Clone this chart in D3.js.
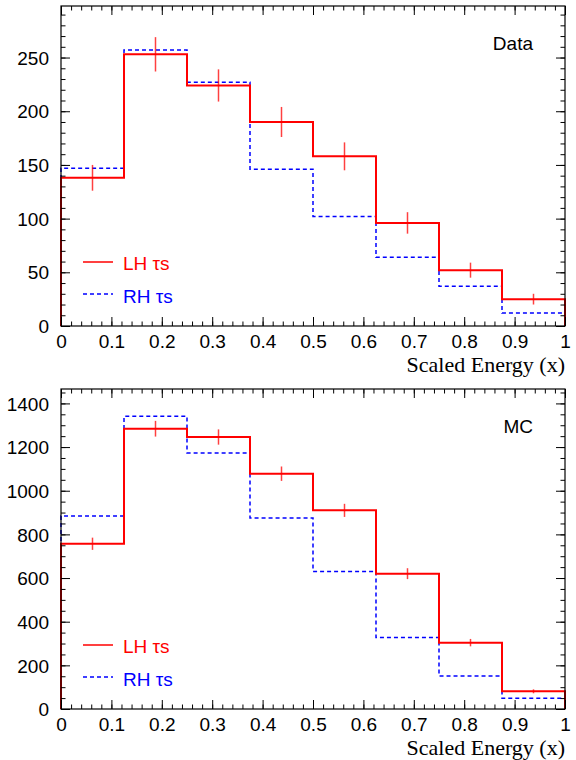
<!DOCTYPE html>
<html>
<head>
<meta charset="utf-8">
<script src="https://cdn.jsdelivr.net/npm/d3@7"></script>
<style>
  body { margin: 0; background: #fff; }
  svg text { font-family: "Liberation Sans", Arial, sans-serif; }
</style>
</head>
<body>
<svg id="chart" width="576" height="760"></svg>
<script>
// bin edges of scaled energy x
var binEdges = [0, 0.125, 0.25, 0.375, 0.5, 0.625, 0.75, 0.875, 1];
var xTicks = [0, 0.1, 0.2, 0.3, 0.4, 0.5, 0.6, 0.7, 0.8, 0.9, 1];
var xTickLabels = ["0", "0.1", "0.2", "0.3", "0.4", "0.5", "0.6", "0.7", "0.8", "0.9", "1"];

// Data panel
var dataLH = [138, 253, 224, 190, 158, 96, 52, 25];
var dataLHErr = [12, 16, 15, 14, 13, 10, 7, 5];
var dataRH = [147, 257, 227, 146, 102, 64, 37, 12];
var dataYTicks = [0, 50, 100, 150, 200, 250];

// MC panel
var mcLH = [757, 1284, 1246, 1078, 910, 620, 304, 81];
var mcLHErr = [28, 36, 35, 33, 30, 25, 17, 9];
var mcRH = [884, 1341, 1173, 875, 630, 327, 151, 49];
var mcYTicks = [0, 200, 400, 600, 800, 1000, 1200, 1400];

var svg = d3.select("#chart");
var left = 61, right = 565;

var panels = [
    {label: "Data", lh: dataLH, err: dataLHErr, rh: dataRH, yTicks: dataYTicks,
     ymax: 298, minor: 10, top: 6, bottom: 326},
    {label: "MC", lh: mcLH, err: mcLHErr, rh: mcRH, yTicks: mcYTicks,
     ymax: 1466, minor: 50, top: 389, bottom: 709}
];

panels.forEach(function(p) {
    var x = d3.scaleLinear().domain([0, 1]).range([left, right]);
    var y = d3.scaleLinear().domain([0, p.ymax]).range([p.bottom, p.top]);
    var g = svg.append("g");

    // histogram step path
    function steps(vals) {
        var pts = [[0, 0]];
        vals.forEach(function(v, i) {
            pts.push([binEdges[i], v]);
            pts.push([binEdges[i + 1], v]);
        });
        pts.push([1, 0]);
        return pts;
    }
    var line = d3.line().x(d => x(d[0])).y(d => y(d[1]));

    g.append("path")
        .attr("d", line(steps(p.rh)))
        .attr("fill", "none")
        .attr("stroke", "#0000ff")
        .attr("stroke-width", 1.5)
        .attr("stroke-dasharray", "4,3");

    g.append("path")
        .attr("d", line(steps(p.lh)))
        .attr("fill", "none")
        .attr("stroke", "#ff0000")
        .attr("stroke-width", 2);

    // error bars
    g.selectAll(".err")
        .data(p.lh)
        .enter()
        .append("line")
        .attr("x1", (d, i) => x((binEdges[i] + binEdges[i + 1]) / 2))
        .attr("x2", (d, i) => x((binEdges[i] + binEdges[i + 1]) / 2))
        .attr("y1", (d, i) => y(d - p.err[i]))
        .attr("y2", (d, i) => y(d + p.err[i]))
        .attr("stroke", "#ff0000")
        .attr("stroke-opacity", 0.75)
        .attr("stroke-width", 1.5);

    // minor ticks
    var xMinor = d3.range(0, 51).map(i => i / 50);
    var yMinor = d3.range(0, Math.floor(p.ymax / p.minor) + 1).map(i => i * p.minor);

    function axisStyle(sel) {
        sel.select(".domain").remove();
        sel.selectAll("line").attr("stroke", "#000").attr("stroke-width", 1);
    }

    g.append("g").attr("transform", "translate(0," + p.bottom + ")")
        .call(d3.axisBottom(x).tickValues(xMinor).tickSize(-4.5).tickFormat(""))
        .call(axisStyle);
    g.append("g").attr("transform", "translate(0," + p.top + ")")
        .call(d3.axisTop(x).tickValues(xMinor).tickSize(-4.5).tickFormat(""))
        .call(axisStyle);
    g.append("g").attr("transform", "translate(" + left + ",0)")
        .call(d3.axisLeft(y).tickValues(yMinor).tickSize(-4.5).tickFormat(""))
        .call(axisStyle);
    g.append("g").attr("transform", "translate(" + right + ",0)")
        .call(d3.axisRight(y).tickValues(yMinor).tickSize(-4.5).tickFormat(""))
        .call(axisStyle);

    // major ticks with labels
    var xAx = g.append("g").attr("transform", "translate(0," + p.bottom + ")")
        .call(d3.axisBottom(x).tickValues(xTicks).tickSize(-9)
            .tickFormat((d, i) => xTickLabels[i]))
        .call(axisStyle);
    xAx.selectAll("text")
        .attr("y", 22).attr("dy", null)
        .attr("font-size", 19).attr("fill", "#000")
        .style("font-family", "'Liberation Sans', Arial, sans-serif");

    g.append("g").attr("transform", "translate(0," + p.top + ")")
        .call(d3.axisTop(x).tickValues(xTicks).tickSize(-9).tickFormat(""))
        .call(axisStyle);

    var yAx = g.append("g").attr("transform", "translate(" + left + ",0)")
        .call(d3.axisLeft(y).tickValues(p.yTicks).tickSize(-9).tickFormat(d => String(d)))
        .call(axisStyle);
    yAx.selectAll("text")
        .attr("x", -12).attr("dy", "0.35em")
        .attr("font-size", 19).attr("fill", "#000")
        .style("font-family", "'Liberation Sans', Arial, sans-serif");

    g.append("g").attr("transform", "translate(" + right + ",0)")
        .call(d3.axisRight(y).tickValues(p.yTicks).tickSize(-9).tickFormat(""))
        .call(axisStyle);

    // frame
    g.append("rect")
        .attr("x", left).attr("y", p.top)
        .attr("width", right - left).attr("height", p.bottom - p.top)
        .attr("fill", "none").attr("stroke", "#000").attr("stroke-width", 1.2);

    // panel label
    g.append("text")
        .attr("x", 533).attr("y", p.top + 44)
        .attr("text-anchor", "end")
        .attr("font-size", 19)
        .text(p.label);

    // x title
    g.append("text")
        .attr("x", right).attr("y", p.bottom + 46)
        .attr("text-anchor", "end")
        .attr("font-size", 22)
        .style("font-family", "'Liberation Serif', 'Times New Roman', serif")
        .text("Scaled Energy (x)");

    // legend
    var legY = p.bottom - 64;
    g.append("line")
        .attr("x1", 83).attr("x2", 113).attr("y1", legY).attr("y2", legY)
        .attr("stroke", "#ff0000").attr("stroke-width", 1.5);
    g.append("text")
        .attr("x", 123).attr("y", legY + 8)
        .attr("font-size", 19).attr("fill", "#ff0000")
        .text("LH τs");
    g.append("line")
        .attr("x1", 83).attr("x2", 113).attr("y1", legY + 32).attr("y2", legY + 32)
        .attr("stroke", "#0000ff").attr("stroke-width", 1.5)
        .attr("stroke-dasharray", "4,3");
    g.append("text")
        .attr("x", 123).attr("y", legY + 41)
        .attr("font-size", 19).attr("fill", "#0000ff")
        .text("RH τs");
});
</script>
</body>
</html>
